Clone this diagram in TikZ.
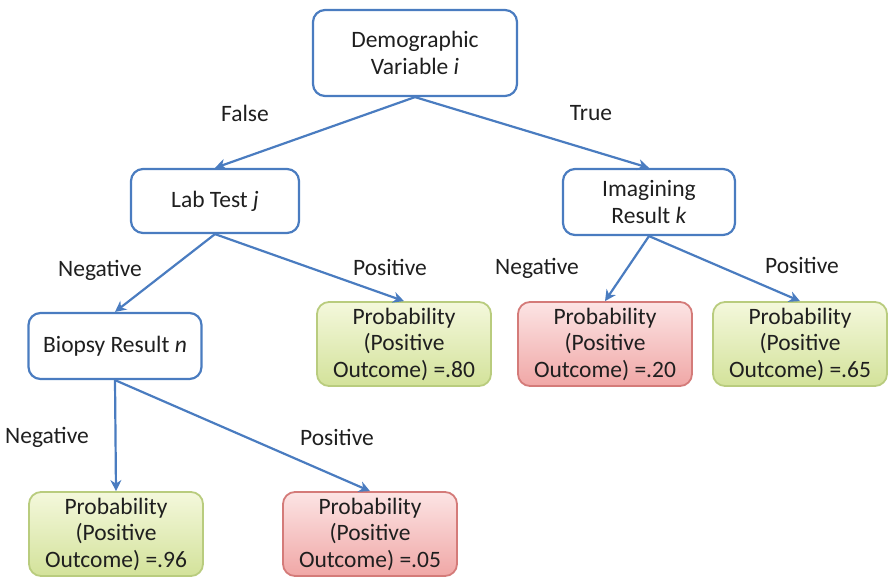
\documentclass[tikz,border=0pt]{standalone}
\usepackage{fontspec}
\setmainfont{Carlito}
\usetikzlibrary{arrows.meta}
\definecolor{edgeblue}{HTML}{4A7CC0}
\definecolor{txt}{HTML}{1F1F1F}
\definecolor{gtop}{HTML}{F4F8DC}
\definecolor{gbot}{HTML}{D3E29A}
\definecolor{gedge}{HTML}{B9CC7E}
\definecolor{rtop}{HTML}{FCE4E4}
\definecolor{rbot}{HTML}{F0A7A6}
\definecolor{redge}{HTML}{D47B79}
\tikzset{
  every node/.style={text=txt, font=\fontsize{23.5}{26.5}\selectfont},
  decision/.style={draw=edgeblue, line width=2.2pt, fill=white, rounded corners=12pt,
    align=center, inner sep=0pt},
  goodleaf/.style={draw=gedge, line width=1.8pt, top color=gtop, bottom color=gbot,
    rounded corners=12pt, align=center, inner sep=0pt,
    minimum width=174pt, minimum height=84pt},
  badleaf/.style={draw=redge, line width=1.8pt, top color=rtop, bottom color=rbot,
    rounded corners=12pt, align=center, inner sep=0pt,
    minimum width=174pt, minimum height=84pt},
  branch/.style={draw=edgeblue, line width=2.2pt,
    -{Stealth[length=11pt, width=11pt, inset=3.5pt]}},
  edgelabel/.style={inner sep=0pt}
}
\begin{document}
\begin{tikzpicture}[x=1pt, y=-1pt]
  \useasboundingbox (0,0) rectangle (889,583);

  % decision nodes
  \node[decision, minimum width=204pt, minimum height=86pt] (demo) at (415,53)
    {Demographic\\Variable \textit{i}};
  \node[decision, minimum width=168pt, minimum height=64pt] (lab) at (215,201)
    {Lab Test \textit{j}};
  \node[decision, minimum width=172pt, minimum height=66pt] (img) at (649,202)
    {Imagining\\Result \textit{k}};
  \node[decision, minimum width=173pt, minimum height=66pt] (bio) at (115,346)
    {Biopsy Result \textit{n}};

  % outcome leaves
  \node[goodleaf] (p80) at (404,344) {Probability\\(Positive\\Outcome) =.80};
  \node[badleaf]  (p20) at (605,344) {Probability\\(Positive\\Outcome) =.20};
  \node[goodleaf] (p65) at (800,344) {Probability\\(Positive\\Outcome) =.65};
  \node[goodleaf] (p96) at (116,534) {Probability\\(Positive\\Outcome) =.96};
  \node[badleaf]  (p05) at (370,534) {Probability\\(Positive\\Outcome) =.05};

  % branches
  \draw[branch] (demo.south) -- (lab.north);
  \draw[branch] (demo.south) -- (img.north);
  \draw[branch] (lab.south) -- (bio.north);
  \draw[branch] (lab.south) -- (p80.north);
  \draw[branch] (img.south) -- (p20.north);
  \draw[branch] (img.south) -- (p65.north);
  \draw[branch] (bio.south) -- (p96.north);
  \draw[branch] (bio.south) -- (p05.north);

  % branch labels
  \node[edgelabel] (lfalse) at (245,113) {False};
  \node[edgelabel] (ltrue)  at (591,113) {True};
  \node[edgelabel] (lneg1)  at (100,270) {Negative};
  \node[edgelabel] (lpos1)  at (390,267) {Positive};
  \node[edgelabel] (lneg2)  at (537,268) {Negative};
  \node[edgelabel] (lpos2)  at (802,265) {Positive};
  \node[edgelabel] (lneg3)  at (47,437)  {Negative};
  \node[edgelabel] (lpos3)  at (337,437) {Positive};
\end{tikzpicture}
\end{document}
